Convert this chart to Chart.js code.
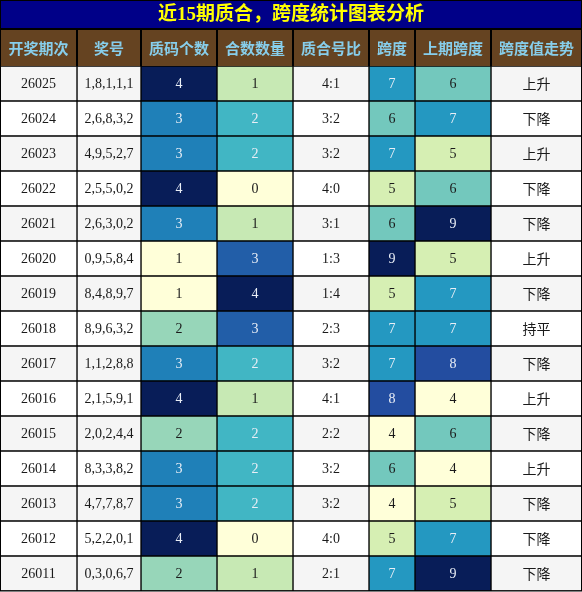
<!DOCTYPE html>
<html lang="zh-CN">
<head>
<meta charset="utf-8">
<title>近15期质合，跨度统计图表分析</title>
<script src="https://cdn.jsdelivr.net/npm/chart.js@4/dist/chart.umd.min.js"></script>
<style>
  html, body { margin: 0; padding: 0; background: #fff; }
  #wrap { width: 582px; height: 592px; position: relative; }
</style>
</head>
<body>
<div id="wrap"><canvas id="table-chart"></canvas></div>
<script>
// Dados da tabela
const TITLE = '近15期质合，跨度统计图表分析';
const HEADERS = ['开奖期次', '奖号', '质码个数', '合数数量', '质合号比', '跨度', '上期跨度', '跨度值走势'];
const PERIODS = ['26025', '26024', '26023', '26022', '26021', '26020', '26019', '26018',
                 '26017', '26016', '26015', '26014', '26013', '26012', '26011'];
const NUMBERS = ['1,8,1,1,1', '2,6,8,3,2', '4,9,5,2,7', '2,5,5,0,2', '2,6,3,0,2', '0,9,5,8,4',
                 '8,4,8,9,7', '8,9,6,3,2', '1,1,2,8,8', '2,1,5,9,1', '2,0,2,4,4', '8,3,3,8,2',
                 '4,7,7,8,7', '5,2,2,0,1', '0,3,0,6,7'];
const PRIME_COUNT = [4, 3, 3, 4, 3, 1, 1, 2, 3, 4, 2, 3, 3, 4, 2];
const COMPOSITE_COUNT = [1, 2, 2, 0, 1, 3, 4, 3, 2, 1, 2, 2, 2, 0, 1];
const RATIO = ['4:1', '3:2', '3:2', '4:0', '3:1', '1:3', '1:4', '2:3', '3:2', '4:1', '2:2', '3:2', '3:2', '4:0', '2:1'];
const SPAN = [7, 6, 7, 5, 6, 9, 5, 7, 7, 8, 4, 6, 4, 5, 7];
const PREV_SPAN = [6, 7, 5, 6, 9, 5, 7, 7, 8, 4, 6, 4, 5, 7, 9];
const TREND = ['上升', '下降', '上升', '下降', '下降', '上升', '下降', '持平', '下降', '上升', '下降', '上升', '下降', '下降', '下降'];

// Layout (larguras das colunas em px)
const COL_WIDTHS = [77, 64, 76, 76, 76, 46, 76, 91];
const HEADER_H = 37;

const SERIF = "'Liberation Serif', 'Times New Roman', 'Noto Sans CJK SC', serif";
const CJK = "'Noto Sans CJK SC', 'Noto Sans', sans-serif";

// YlGnBu
const YLGNBU = ['#ffffd9', '#edf8b1', '#c7e9b4', '#7fcdbb', '#41b6c4', '#1d91c0', '#225ea8', '#253494', '#081d58'];

function hexToRgb(hex) {
  const n = parseInt(hex.slice(1), 16);
  return [(n >> 16) & 255, (n >> 8) & 255, n & 255];
}

function heatColor(t) {
  const pos = Math.max(0, Math.min(1, t)) * (YLGNBU.length - 1);
  const i = Math.min(Math.floor(pos), YLGNBU.length - 2);
  const f = pos - i;
  const a = hexToRgb(YLGNBU[i]);
  const b = hexToRgb(YLGNBU[i + 1]);
  const c = a.map((v, k) => Math.round(v + (b[k] - v) * f));
  return `rgb(${c[0]}, ${c[1]}, ${c[2]})`;
}

// Colunas: textos + se usa mapa de calor
const COLUMNS = [
  { values: PERIODS, heat: false, font: SERIF, dy: 1 },
  { values: NUMBERS, heat: false, font: SERIF, dy: 1 },
  { values: PRIME_COUNT, heat: true, font: SERIF, dy: 1 },
  { values: COMPOSITE_COUNT, heat: true, font: SERIF, dy: 1 },
  { values: RATIO, heat: false, font: SERIF, dy: 1 },
  { values: SPAN, heat: true, font: SERIF, dy: 1 },
  { values: PREV_SPAN, heat: true, font: SERIF, dy: 1 },
  { values: TREND, heat: false, font: CJK, dy: 0 }
];

const edges = COL_WIDTHS.reduce((acc, w) => { acc.push(acc[acc.length - 1] + w); return acc; }, [0]);

function normalize(values) {
  const min = Math.min(...values);
  const max = Math.max(...values);
  return values.map(v => (max === min ? 0 : (v - min) / (max - min)));
}

function rowBackground(j) {
  return j % 2 === 0 ? '#f5f5f5' : '#ffffff';
}

const datasets = COLUMNS.map((col, i) => {
  const norm = col.heat ? normalize(col.values) : null;
  return {
    label: HEADERS[i],
    data: PERIODS.map(() => [edges[i], edges[i + 1]]),
    backgroundColor: PERIODS.map((_, j) => (col.heat ? heatColor(norm[j]) : rowBackground(j))),
    textColor: PERIODS.map((_, j) => (col.heat && norm[j] >= 0.5 ? '#e9eef6' : '#1a1a1a')),
    borderColor: '#000000',
    borderWidth: 1,
    borderSkipped: false,
    grouped: false,
    barPercentage: 1,
    categoryPercentage: 1
  };
});

// Plugin: fundo do título, cabeçalho e textos das células
const tablePlugin = {
  id: 'tablePlugin',
  beforeDraw(chart) {
    const ctx = chart.ctx;
    const xs = chart.scales.x;
    const top = chart.chartArea.top;
    const hTop = top - HEADER_H;
    ctx.save();

    // Fundo do título
    ctx.fillStyle = '#000088';
    ctx.fillRect(0, 0, chart.width, hTop);

    // Cabeçalho
    ctx.fillStyle = '#654321';
    ctx.fillRect(0, hTop, chart.width, HEADER_H);
    ctx.fillStyle = '#87ceeb';
    ctx.font = `bold 15px ${CJK}`;
    ctx.textAlign = 'center';
    ctx.textBaseline = 'middle';
    HEADERS.forEach((h, i) => {
      const x0 = xs.getPixelForValue(edges[i]);
      const x1 = xs.getPixelForValue(edges[i + 1]);
      ctx.fillText(h, (x0 + x1) / 2, hTop + HEADER_H / 2 + 1);
    });

    // Linhas do cabeçalho
    ctx.strokeStyle = '#000000';
    ctx.lineWidth = 2;
    ctx.beginPath();
    edges.forEach(e => {
      const x = Math.round(xs.getPixelForValue(e));
      ctx.moveTo(x, hTop);
      ctx.lineTo(x, top);
    });
    ctx.moveTo(0, hTop);
    ctx.lineTo(chart.width, hTop);
    ctx.stroke();
    ctx.restore();
  },
  afterDatasetsDraw(chart) {
    const ctx = chart.ctx;
    ctx.save();
    ctx.textAlign = 'center';
    ctx.textBaseline = 'middle';
    chart.data.datasets.forEach((ds, i) => {
      const col = COLUMNS[i];
      ctx.font = `14px ${col.font}`;
      chart.getDatasetMeta(i).data.forEach((bar, j) => {
        const p = bar.getCenterPoint();
        ctx.fillStyle = ds.textColor[j];
        ctx.fillText(String(col.values[j]), p.x, p.y + col.dy);
      });
    });
    // Borda externa
    ctx.strokeStyle = '#000000';
    ctx.lineWidth = 1;
    ctx.strokeRect(0.5, 0.5, chart.width - 1, chart.chartArea.bottom - 0.5);
    ctx.restore();
  }
};

const chart = new Chart(document.getElementById('table-chart'), {
  type: 'bar',
  data: { labels: PERIODS, datasets: datasets },
  options: {
    indexAxis: 'y',
    responsive: true,
    maintainAspectRatio: false,
    animation: false,
    layout: { padding: { top: 0, bottom: 1, left: 0, right: 0 } },
    scales: {
      x: { type: 'linear', min: 0, max: edges[edges.length - 1], display: false },
      y: { type: 'category', display: false, offset: true }
    },
    plugins: {
      legend: { display: false },
      tooltip: { enabled: false },
      title: {
        display: true,
        text: TITLE,
        color: '#ffff00',
        font: { family: SERIF, size: 19, weight: 'bold', lineHeight: '23px' },
        padding: { top: 4, bottom: 2 + HEADER_H }
      }
    }
  },
  plugins: [tablePlugin]
});
</script>
</body>
</html>
